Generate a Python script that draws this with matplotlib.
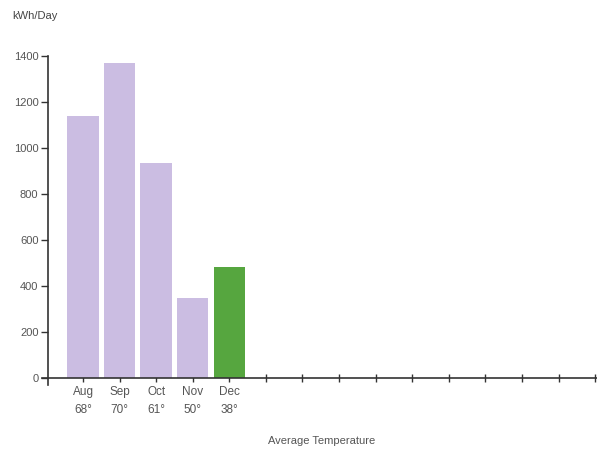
import matplotlib
matplotlib.use("Agg")
import matplotlib.pyplot as plt

months = ["Aug", "Sep", "Oct", "Nov", "Dec"]
temps = ["68°", "70°", "61°", "50°", "38°"]
kwh = [1138, 1368, 933, 348, 484]
n_slots = 15  # axis has room for more months

bar_colors = ["#cbbde2", "#cbbde2", "#cbbde2", "#cbbde2", "#56a63f"]

plt.rcParams["font.family"] = ["Liberation Sans", "DejaVu Sans"]

fig = plt.figure(figsize=(5.97, 4.55), dpi=100)
ax = fig.add_axes([42 / 597, 70 / 455, 1 - 42 / 597, (455 - 56 - 70) / 455])

x = list(range(len(months)))
ax.bar(x, kwh, width=0.86, color=bar_colors, zorder=2)

ax.set_ylim(-30, 1400)
ax.set_xlim(-1.12, 14.05)
ax.set_yticks([0, 200, 400, 600, 800, 1000, 1200, 1400])
ax.set_xticks(range(n_slots))
labels = [f"{m}\n{t}" for m, t in zip(months, temps)] + [""] * (n_slots - len(months))
ax.set_xticklabels(labels)

for s in ["top", "right"]:
    ax.spines[s].set_visible(False)
ax.spines["bottom"].set_position(("data", 0))
ax.spines["left"].set_position(("data", -0.95))
ax.spines["left"].set_bounds(-30, 1400)
for s in ["bottom", "left"]:
    ax.spines[s].set_color("#333333")
    ax.spines[s].set_linewidth(1.2)

ax.tick_params(axis="y", direction="out", length=5, width=1, colors="#333333",
               labelcolor="#555555", labelsize=8, pad=2)
ax.tick_params(axis="x", direction="inout", length=6, width=1, colors="#333333",
               labelcolor="#555555", labelsize=8.5, pad=3)
for lbl in ax.get_xticklabels():
    lbl.set_linespacing(1.6)

fig.text(12 / 597, 1 - 16 / 455, "kWh/Day", fontsize=8, color="#444444", va="center")
fig.text(322 / 597, 1 - 441 / 455, "Average Temperature", fontsize=8, color="#555555",
         ha="center", va="center")

fig.savefig("out.png", dpi=100)
